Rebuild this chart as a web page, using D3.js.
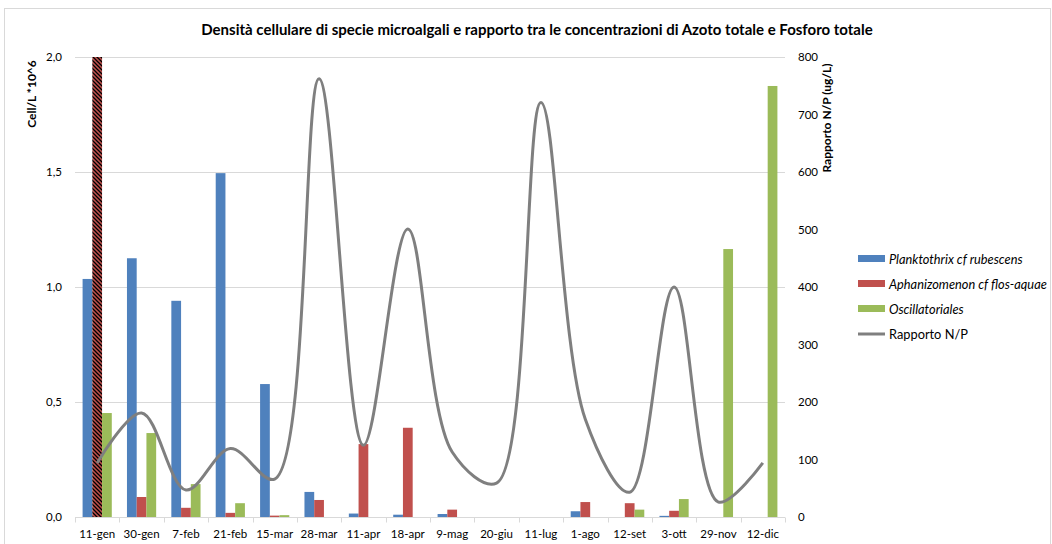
<!DOCTYPE html>
<html lang="it">
<head>
    <meta charset="UTF-8">
    <script src="https://cdn.jsdelivr.net/npm/d3@7"></script>
    <style>
        body { margin: 0; background: #fff; }
        text { font-family: Lato, "Open Sans", sans-serif; fill: #000; }
    </style>
</head>
<body>
<div id="chart"></div>
<script>
    // DATA
    const CATEGORIES = ["11-gen", "30-gen", "7-feb", "21-feb", "15-mar", "28-mar", "11-apr", "18-apr",
        "9-mag", "20-giu", "11-lug", "1-ago", "12-set", "3-ott", "29-nov", "12-dic"];
    // cell/L *10^6
    const PLANKTOTHRIX = [1.035, 1.125, 0.94, 1.495, 0.578, 0.109, 0.015, 0.01, 0.013, 0, 0, 0.025, 0, 0.005, 0, 0];
    const APHANIZOMENON = [2.0, 0.087, 0.04, 0.018, 0.006, 0.074, 0.317, 0.388, 0.032, 0, 0, 0.065, 0.06, 0.027, 0, 0];
    const OSCILLATORIALES = [0.452, 0.365, 0.143, 0.06, 0.008, 0, 0, 0, 0, 0, 0, 0, 0.032, 0.078, 1.165, 1.874];
    // N/P ratio (right axis)
    const RAPPORTO_NP = [94, 181, 47, 119, 66, 762, 125, 501, 113, 59, 721, 170, 43, 400, 26, 94];
    const LEFT_TICKS = [0, 0.5, 1.0, 1.5, 2.0];
    const RIGHT_TICKS = [0, 100, 200, 300, 400, 500, 600, 700, 800];

    const SERIES = [
        { name: "Planktothrix cf rubescens", values: PLANKTOTHRIX, color: "#4f81bd" },
        { name: "Aphanizomenon cf flos-aquae", values: APHANIZOMENON, color: "#c0504d" },
        { name: "Oscillatoriales", values: OSCILLATORIALES, color: "#9bbb59" }
    ];

    const WIDTH = 1052, HEIGHT = 544;
    const plot = { left: 75, right: 785, top: 57, bottom: 517 };

    const svg = d3.select("#chart").append("svg")
        .attr("width", WIDTH)
        .attr("height", HEIGHT);

    // outer chart frame
    svg.append("rect")
        .attr("x", 4.5).attr("y", 8.5)
        .attr("width", 1046).attr("height", 560)
        .attr("fill", "none").attr("stroke", "#d9d9d9");

    // hatch pattern for the bar that runs off the scale
    const pat = svg.append("defs").append("pattern")
        .attr("id", "hatch")
        .attr("patternUnits", "userSpaceOnUse")
        .attr("width", 4).attr("height", 4);
    pat.append("rect").attr("width", 4).attr("height", 4).attr("fill", "#c0504d");
    pat.append("path")
        .attr("d", "M-1,-1 L5,5 M-1,3 L1,5 M3,-1 L5,1")
        .attr("stroke", "#000").attr("stroke-width", 1.3);

    // scales
    const x0 = d3.scaleBand().domain(CATEGORIES).range([plot.left, plot.right]).paddingInner(0);
    const x1 = d3.scaleBand().domain(SERIES.map(s => s.name)).range([0, x0.bandwidth()])
        .paddingInner(0).paddingOuter(0.78);
    const yL = d3.scaleLinear().domain([0, 2]).range([plot.bottom, plot.top]);
    const yR = d3.scaleLinear().domain([0, 800]).range([plot.bottom, plot.top]);

    // gridlines
    svg.append("g").selectAll("line")
        .data(LEFT_TICKS.slice(1))
        .enter().append("line")
        .attr("x1", plot.left).attr("x2", plot.right)
        .attr("y1", d => Math.round(yL(d)) + 0.5).attr("y2", d => Math.round(yL(d)) + 0.5)
        .attr("stroke", "#d9d9d9");

    // bars
    SERIES.forEach(s => {
        svg.append("g").selectAll("rect")
            .data(s.values)
            .enter().append("rect")
            .attr("x", (d, i) => x0(CATEGORIES[i]) + x1(s.name))
            .attr("width", x1.bandwidth())
            .attr("y", d => yL(Math.min(d, 2)))
            .attr("height", d => plot.bottom - yL(Math.min(d, 2)))
            .attr("fill", (d, i) => d >= 2 ? "url(#hatch)" : s.color);
    });

    // x axis
    const xAxis = svg.append("g").attr("transform", `translate(0,${plot.bottom + 0.5})`);
    xAxis.append("line").attr("x1", plot.left).attr("x2", plot.right).attr("stroke", "#d9d9d9");
    xAxis.selectAll(".tk")
        .data(CATEGORIES.concat(["end"]))
        .enter().append("line")
        .attr("x1", (d, i) => Math.round(plot.left + i * x0.step()) + 0.5)
        .attr("x2", (d, i) => Math.round(plot.left + i * x0.step()) + 0.5)
        .attr("y1", 0).attr("y2", 5)
        .attr("stroke", "#d9d9d9");
    xAxis.selectAll("text")
        .data(CATEGORIES)
        .enter().append("text")
        .attr("x", d => x0(d) + x0.bandwidth() / 2)
        .attr("y", 20)
        .attr("text-anchor", "middle")
        .attr("font-size", 11.5)
        .text(d => d);

    // left axis labels
    svg.append("g").selectAll("text")
        .data(LEFT_TICKS)
        .enter().append("text")
        .attr("x", 62).attr("y", d => yL(d) + 4)
        .attr("text-anchor", "end")
        .attr("font-size", 11.5)
        .text(d => d3.format(".1f")(d).replace(".", ","));

    // right axis labels
    svg.append("g").selectAll("text")
        .data(RIGHT_TICKS)
        .enter().append("text")
        .attr("x", 798).attr("y", d => yR(d) + 4)
        .attr("font-size", 11.5)
        .text(d => d);

    // N/P line (smoothed, like the spreadsheet)
    const line = d3.line()
        .x((d, i) => x0(CATEGORIES[i]) + x0.bandwidth() / 2)
        .y(d => yR(d))
        .curve(d3.curveCatmullRom.alpha(0.5));
    svg.append("path")
        .datum(RAPPORTO_NP)
        .attr("d", line)
        .attr("fill", "none")
        .attr("stroke", "#7f7f7f")
        .attr("stroke-width", 3)
        .attr("stroke-linejoin", "round");

    // title
    svg.append("text")
        .attr("x", 537).attr("y", 35)
        .attr("text-anchor", "middle")
        .attr("font-size", 15).attr("font-weight", "bold")
        .text("Densità cellulare di specie microalgali e rapporto tra le concentrazioni di Azoto totale e Fosforo totale");

    // axis titles
    svg.append("text")
        .attr("transform", "translate(36,94) rotate(-90)")
        .attr("text-anchor", "middle")
        .attr("font-size", 12).attr("font-weight", "bold")
        .text("Cell/L *10^6");
    svg.append("text")
        .attr("transform", "translate(831,118) rotate(-90)")
        .attr("text-anchor", "middle")
        .attr("font-size", 12).attr("font-weight", "bold")
        .text("Rapporto N/P (ug/L)");

    // legend
    const legend = svg.append("g").attr("transform", "translate(858,259)");
    SERIES.forEach((s, i) => {
        legend.append("rect")
            .attr("x", 0).attr("y", i * 25 - 4)
            .attr("width", 27).attr("height", 7)
            .attr("fill", s.color);
        legend.append("text")
            .attr("x", 31).attr("y", i * 25 + 4.5)
            .attr("font-size", 12.8).attr("font-style", "italic")
            .text(s.name);
    });
    legend.append("line")
        .attr("x1", 0).attr("x2", 27)
        .attr("y1", 75).attr("y2", 75)
        .attr("stroke", "#7f7f7f").attr("stroke-width", 3);
    legend.append("text")
        .attr("x", 31).attr("y", 79.5)
        .attr("font-size", 12.8)
        .text("Rapporto N/P");
</script>
</body>
</html>
